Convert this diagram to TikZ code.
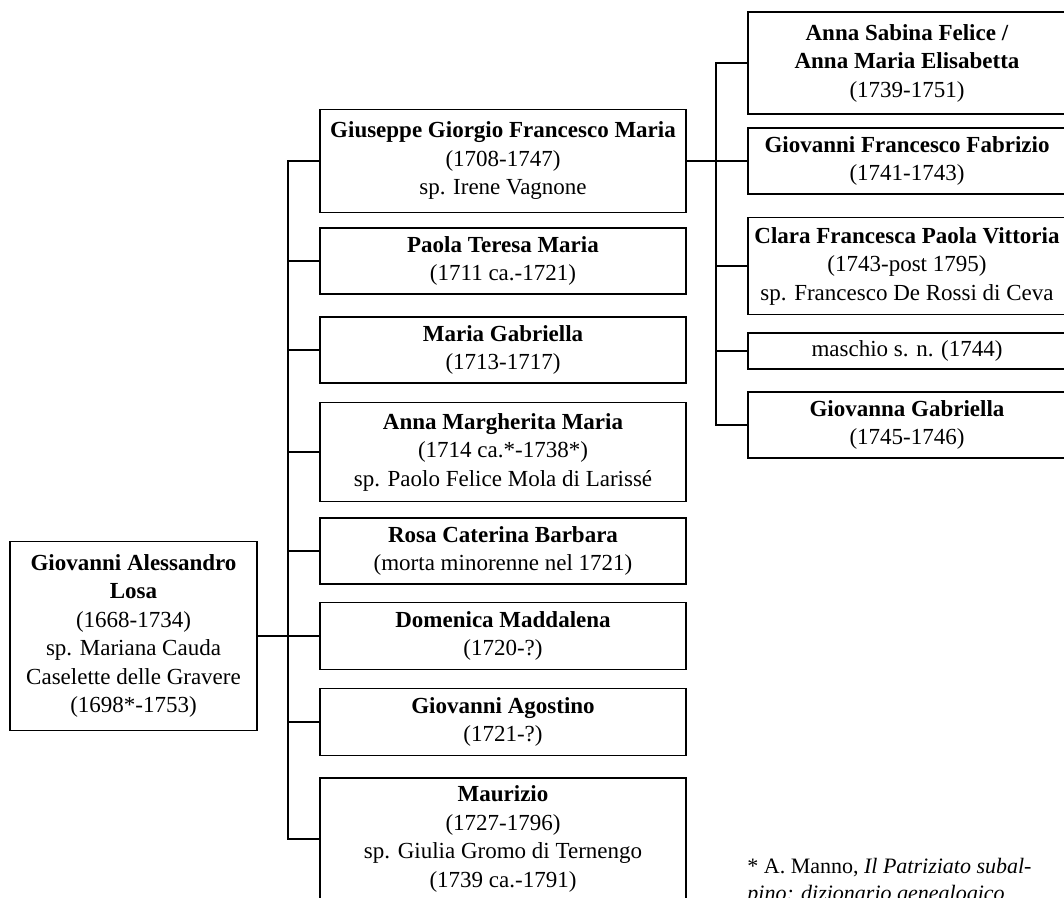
\documentclass[tikz,border=0pt]{standalone}
\usepackage{fontspec}
\setmainfont{Liberation Serif}
\usepackage{tikz}
\usetikzlibrary{positioning,calc}
\tikzset{
  lsperson/.style={
    rectangle, draw=black, fill=white, line width=0.9pt,
    inner xsep=2pt, inner ysep=2pt, align=center,
    font=\fontsize{11.5}{14.25}\selectfont
  },
  lsmid/.style={lsperson, minimum width=183pt},
  lsright/.style={lsperson, minimum width=159pt},
  lsedge/.style={line width=0.9pt},
  lsnote/.style={font=\fontsize{11}{13.5}\selectfont, align=left, inner sep=0pt, anchor=base west}
}

\begin{document}
\begin{tikzpicture}[x=0.5pt,y=-0.5pt]
  \clip (0,0) rectangle (1064,898);
  \useasboundingbox (0,0) rectangle (1064,898);
  \coordinate (t1) at (288,0);
  \coordinate (t2) at (716,0);
  \node[lsperson, minimum width=123.5pt, minimum height=94.5pt] (root) at (133.5,636)
    {\textbf{Giovanni Alessandro}\\\textbf{Losa}\\(1668-1734)\\sp. Mariana Cauda\\Caselette delle Gravere\\(1698*-1753)};
  \node[lsmid, minimum height=51.5pt] (M1) at (503,161)
    {\textbf{Giuseppe Giorgio Francesco Maria}\\(1708-1747)\\sp. Irene Vagnone};
  \node[lsmid, minimum height=33pt] (M2) at (503,261)
    {\textbf{Paola Teresa Maria}\\(1711 ca.-1721)};
  \node[lsmid, minimum height=33pt] (M3) at (503,350)
    {\textbf{Maria Gabriella}\\(1713-1717)};
  \node[lsmid, minimum height=49.5pt] (M4) at (503,452)
    {\textbf{Anna Margherita Maria}\\(1714 ca.*-1738*)\\sp. Paolo Felice Mola di Larissé};
  \node[lsmid, minimum height=33pt] (M5) at (503,551)
    {\textbf{Rosa Caterina Barbara}\\(morta minorenne nel 1721)};
  \node[lsmid, minimum height=33.5pt] (M6) at (503,636)
    {\textbf{Domenica Maddalena}\\(1720-?)};
  \node[lsmid, minimum height=33.5pt] (M7) at (503,722)
    {\textbf{Giovanni Agostino}\\(1721-?)};
  \node[lsmid, minimum height=61pt] (M8) at (503,839)
    {\textbf{Maurizio}\\(1727-1796)\\sp. Giulia Gromo di Ternengo\\(1739 ca.-1791)};
  \node[lsright, minimum height=51pt] (R1) at (907,63)
    {\textbf{Anna Sabina Felice /}\\\textbf{Anna Maria Elisabetta}\\(1739-1751)};
  \node[lsright, minimum height=33pt] (R2) at (907,161)
    {\textbf{Giovanni Francesco Fabrizio}\\(1741-1743)};
  \node[lsright, minimum height=48.5pt] (R3) at (907,266)
    {\textbf{Clara Francesca Paola Vittoria}\\(1743-post 1795)\\sp. Francesco De Rossi di Ceva};
  \node[lsright, minimum height=18pt] (R4) at (907,351)
    {maschio s. n. (1744)};
  \node[lsright, minimum height=33pt] (R5) at (907,425)
    {\textbf{Giovanna Gabriella}\\(1745-1746)};
  \draw[lsedge] (root.east) -- (root.east -| t1);
  \draw[lsedge] (M1.west) -- (M1.west -| t1) -- (M8.west -| t1) -- (M8.west);
  \foreach \n in {M2,M3,M4,M5,M6,M7}
    \draw[lsedge] (\n.west) -- (\n.west -| t1);
  \draw[lsedge] (M1.east) -- (R2.west);
  \draw[lsedge] (R1.west) -- (R1.west -| t2) -- (R5.west -| t2) -- (R5.west);
  \foreach \n in {R3,R4}
    \draw[lsedge] (\n.west) -- (\n.west -| t2);
  \node[lsnote] (note) at (747,900)
    {* A. Manno, \textit{Il Patriziato subal-}\\\textit{pino: dizionario genealogico}};
\end{tikzpicture}
\end{document}
